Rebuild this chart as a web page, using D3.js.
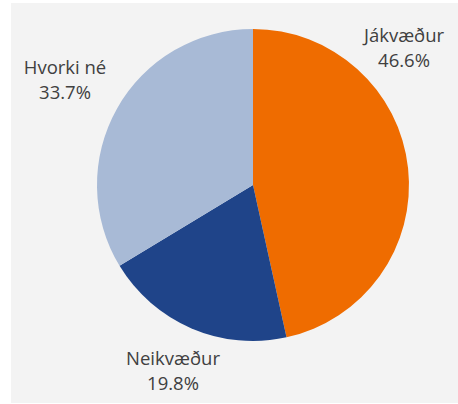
<!DOCTYPE html>
<html>
<head>
<meta charset="utf-8">
<script src="https://cdn.jsdelivr.net/npm/d3@7"></script>
<style>
  body { margin: 0; background: #ffffff; }
  text { font-family: "Open Sans", Lato, sans-serif; fill: #404040; }
</style>
</head>
<body>
<svg id="chart" width="458" height="404"></svg>
<script>
var categories = ['Jákvæður', 'Neikvæður', 'Hvorki né'];
var values = [46.6, 19.8, 33.7];
var colors = ['#ef6c00', '#1f4489', '#a8bad6'];

(function () {
  'use strict';
  var svg = d3.select('#chart');
  var cx = 253, cy = 185, radius = 156;

  svg.append('rect').attr('x', 11).attr('y', 3).attr('width', 447).attr('height', 400).attr('fill', '#f3f3f3');

  var data = categories.map(function (c, i) { return { name: c, value: values[i], color: colors[i] }; });
  var pie = d3.pie().sort(null).value(function (d) { return d.value; });
  var arc = d3.arc().innerRadius(0).outerRadius(radius);

  var g = svg.append('g').attr('transform', 'translate(' + cx + ',' + cy + ')');
  g.selectAll('path').data(pie(data)).enter().append('path')
    .attr('d', arc)
    .attr('fill', function (d) { return d.data.color; });

  // label anchors (Excel "best fit" style, placed by hand)
  var labelPos = [[151, -143], [-80, 180], [-188, -111]];
  var labels = g.selectAll('text.lbl').data(pie(data)).enter().append('text')
    .attr('class', 'lbl')
    .attr('text-anchor', 'middle')
    .attr('font-size', '18.5px')
    .attr('transform', function (d, i) { return 'translate(' + labelPos[i][0] + ',' + labelPos[i][1] + ')'; });
  labels.append('tspan').attr('x', 0).attr('y', 0).text(function (d) { return d.data.name; });
  labels.append('tspan').attr('x', 0).attr('y', 25).text(function (d) { return d.data.value.toFixed(1) + '%'; });
})();
</script>
</body>
</html>
